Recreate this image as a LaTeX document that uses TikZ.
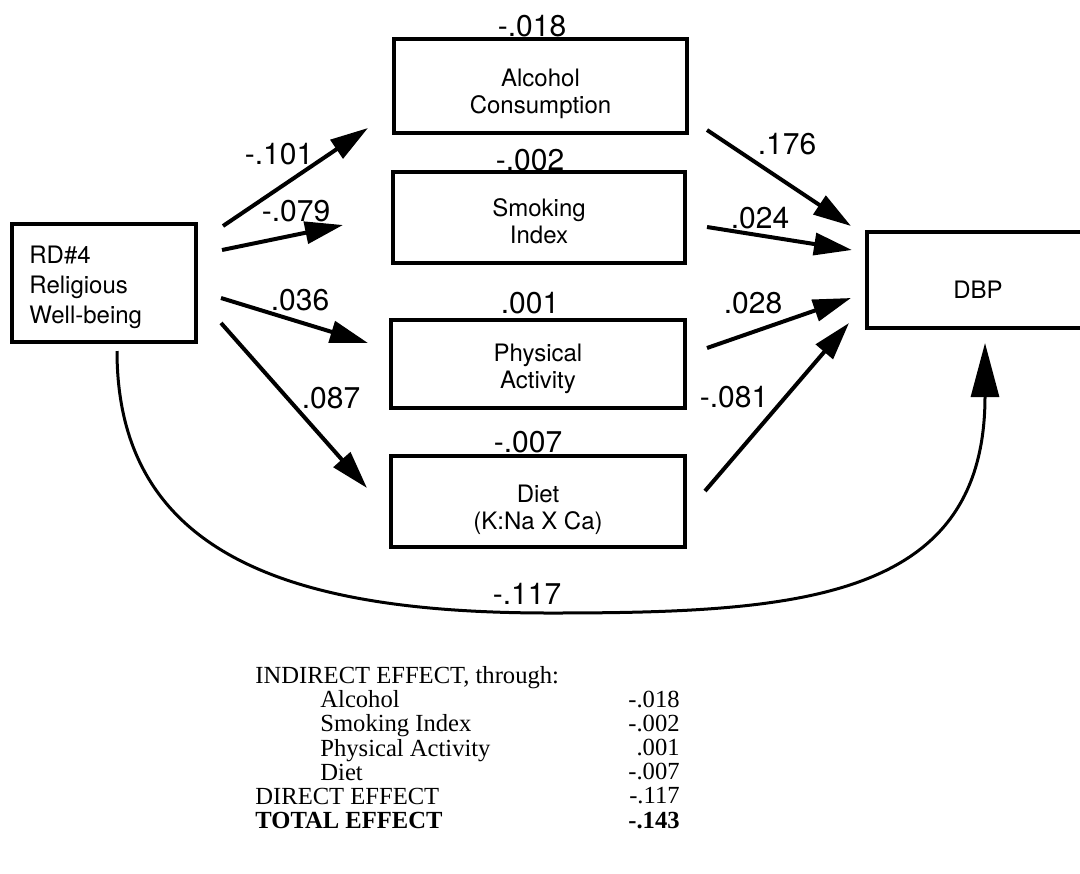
\documentclass[tikz,border=0pt]{standalone}
\usepackage{fontspec}
\setmainfont{TeX Gyre Heros}
\newfontfamily\tabfont{Liberation Serif}
\usetikzlibrary{arrows.meta}

\begin{document}
\begin{tikzpicture}[x=0.5pt,y=-0.5pt,
    box/.style={draw,line width=1.7pt,outer sep=0pt},
    boxtext/.style={align=center,inner sep=0pt,font=\fontsize{12}{13.5}\selectfont},
    coef/.style={font=\fontsize{15}{15}\selectfont,inner sep=0pt},
    arr/.style={line width=2pt,-{Triangle[length=19pt,width=11pt]}}]
  \useasboundingbox (0,0) rectangle (1080,873);

  % boxes
  \node[box,minimum width=92pt,minimum height=59pt] (rd) at (104,283) {};
  \node[box,minimum width=146.5pt,minimum height=47pt] (alc) at (540.5,86) {};
  \node[box,minimum width=146pt,minimum height=45.5pt] (smk) at (539,217.5) {};
  \node[box,minimum width=147pt,minimum height=44pt] (phy) at (538,364) {};
  \node[box,minimum width=147pt,minimum height=45.5pt] (diet) at (538,501.5) {};
  \node[box,minimum width=111pt,minimum height=48pt] (dbp) at (978,280) {};

  % box texts
  \node[boxtext,align=left,anchor=west,font=\fontsize{12}{15}\selectfont] (rdt) at ([shift={(17,4)}]rd.west) {RD\#4\\Religious\\Well-being};
  \node[boxtext] (alct) at ([shift={(0,8)}]alc.center) {Alcohol\\Consumption};
  \node[boxtext] (smkt) at ([shift={(0,4)}]smk.center) {Smoking\\Index};
  \node[boxtext] (phyt) at ([shift={(0,5)}]phy.center) {Physical\\Activity};
  \node[boxtext] (diett) at ([shift={(0,8)}]diet.center) {Diet\\(K:Na X Ca)};
  \node[boxtext] (dbpt) at ([shift={(0,10)}]dbp.center) {DBP};

  % paths in
  \draw[arr] ([shift={(27,2)}]rd.north east) -- ([shift={(-26,-5)}]alc.south west);
  \draw[arr] ([shift={(26,-33)}]rd.east) -- ([shift={(-50,7.5)}]smk.west);
  \draw[arr] ([shift={(25,15)}]rd.east) -- ([shift={(-23,-21)}]phy.west);
  \draw[arr] ([shift={(25,40)}]rd.east) -- ([shift={(-24,-13.5)}]diet.west);

  % paths out
  \draw[arr] ([shift={(20,44)}]alc.east) -- ([shift={(-16,-6)}]dbp.north west);
  \draw[arr] ([shift={(22,9.5)}]smk.east) -- ([shift={(-15,-30)}]dbp.west);
  \draw[arr] ([shift={(22,-16)}]phy.east) -- ([shift={(-16,18)}]dbp.west);
  \draw[arr] ([shift={(20,-10.5)}]diet.east) -- ([shift={(-18,-5)}]dbp.south west);

  % direct path
  \draw[line width=1.5pt,-{Triangle[length=27pt,width=14pt]}] ([shift={(13,9)}]rd.south)
      .. controls (117,560) and (300,613) .. (550,613)
      .. controls (800,613) and (985,600) .. ([shift={(7,15)}]dbp.south);

  % coefficients
  \node[coef] (rdalc) at (279,154) {-.101};
  \node[coef] (rdsmk) at (296,211) {-.079};
  \node[coef] (rdphy) at (300,300) {.036};
  \node[coef] (rddiet) at (331,398) {.087};
  \node[coef] (alcdbp) at (787,144) {.176};
  \node[coef] (smkdbp) at (760,218) {.024};
  \node[coef] (phydbp) at (753,303) {.028};
  \node[coef] (dietdbp) at (734,397) {-.081};
  \node[coef] (direct) at (527,594) {-.117};
  \node[coef] (ialc) at (532,26) {-.018};
  \node[coef] (ismk) at (530,160) {-.002};
  \node[coef] (iphy) at (530,303) {.001};
  \node[coef] (idiet) at (528,442) {-.007};

  % summary
  \node[anchor=base west,inner sep=0pt,font=\tabfont\fontsize{12.3}{12.1}\selectfont] (effects) at (255,683)
    {\begin{tabular}[t]{@{}l@{}}
      INDIRECT EFFECT, through:\\
      \hspace*{32.5pt}Alcohol\\
      \hspace*{32.5pt}Smoking Index\\
      \hspace*{32.5pt}Physical Activity\\
      \hspace*{32.5pt}Diet\\
      DIRECT EFFECT\\
      \textbf{TOTAL EFFECT}
    \end{tabular}};
  \node[anchor=base east,inner sep=0pt,font=\tabfont\fontsize{12.3}{12.1}\selectfont] (values) at (680,707)
    {\begin{tabular}[t]{@{}r@{}}
      -.018\\ -.002\\ .001\\ -.007\\ -.117\\ \textbf{-.143}
    \end{tabular}};
\end{tikzpicture}
\end{document}
